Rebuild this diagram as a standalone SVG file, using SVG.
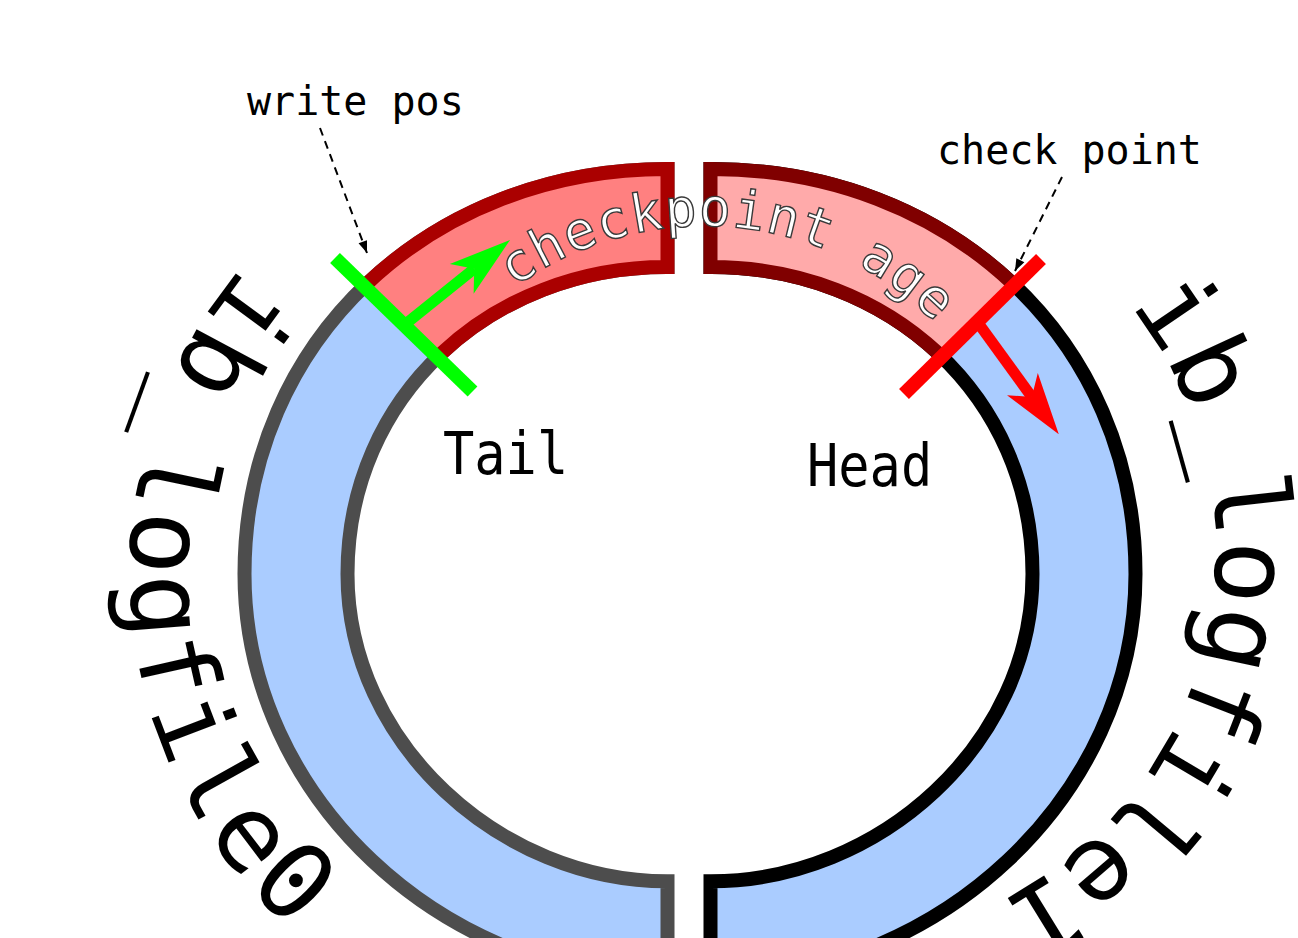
<svg xmlns="http://www.w3.org/2000/svg" width="1298" height="938" viewBox="0 0 1298 938">
<defs>
<style>
.mono{font-family:"DejaVu Sans Mono","Liberation Mono",monospace;}
.band{stroke-width:14;stroke-linejoin:miter;}
.blue{fill:#aaccff;}
.bar{stroke-width:14;fill:none;stroke-linecap:butt;}
.shaft{stroke-width:11;fill:none;}
.dash{stroke:#000;stroke-width:2;fill:none;stroke-dasharray:8,6;}
.big{font-size:106px;fill:#000;}
.lbl{font-size:40px;fill:#000;}
.ht{font-size:52px;fill:#000;}
.age{font-size:53px;fill:#fff;stroke:#3a3a3a;stroke-width:1.4;letter-spacing:1px;}
</style>
<path id="pL" d="M667.5,169 C431.6,168.5 244.5,338.8 244.5,574 C244.5,798 444,979.5 667.5,979 L667.5,881.3 C500.8,881.5 347.5,743.8 347.5,574 C347.5,395.65 491.35,266.5 667.5,267 Z"/>
<path id="pR" d="M710.5,169 C948.4,168.5 1135.5,338.8 1135.5,574 C1135.5,798 936,979.5 710.5,979 L710.5,881.3 C879.2,881.5 1032.5,743.8 1032.5,574 C1032.5,395.65 888.65,266.5 710.5,267 Z"/>
<clipPath id="clipL"><polygon points="-77.5,-142.5 747.5,658.5 1500,-100 300,-500"/></clipPath>
<clipPath id="clipR"><polygon points="493,799 1315,-11 1000,-600 -100,-100"/></clipPath>
<path id="tpL" d="M242.2,266.8 A472.5,472.5 0 0,0 365.75,982.2"/>
<path id="tpR" d="M1129.4,305.4 A392,392 0 0,1 892.1,937"/>
<path id="tpC" d="M514.1,287.7 A323,323 0 0,1 983.7,387.5"/>
<marker id="ahG" markerUnits="userSpaceOnUse" markerWidth="120" markerHeight="120" refX="0" refY="0" orient="auto" overflow="visible">
<path d="M46,0 L-16,-19 L0,0 L-16,19 Z" fill="#00ff00"/>
</marker>
<marker id="ahR" markerUnits="userSpaceOnUse" markerWidth="120" markerHeight="120" refX="0" refY="0" orient="auto" overflow="visible">
<path d="M46,0 L-16,-19 L0,0 L-16,19 Z" fill="#ff0000"/>
</marker>
<marker id="ahK" markerUnits="userSpaceOnUse" markerWidth="30" markerHeight="30" refX="0" refY="0" orient="auto" overflow="visible">
<path d="M0,0 L-12,-4.5 L-12,4.5 Z" fill="#000"/>
</marker>
</defs>
<rect width="1298" height="938" fill="#ffffff"/>

<g id="ib_logfile0">
<use href="#pL" class="band blue" stroke="#4d4d4d"/>
<text class="mono big" letter-spacing="3.5"><textPath href="#tpL">ib_logfile0</textPath></text>
</g>
<g id="ib_logfile1">
<use href="#pR" class="band blue" stroke="#000000"/>
<text class="mono big" letter-spacing="-0.5"><textPath href="#tpR">ib_logfile1</textPath></text>
</g>

<g id="checkpoint-age">
<g clip-path="url(#clipL)"><use href="#pL" class="band" fill="#ff8080" stroke="#aa0000"/></g>
<g clip-path="url(#clipR)"><use href="#pR" class="band" fill="#ffaaaa" stroke="#800000"/></g>
<text class="mono age"><textPath href="#tpC">checkpoint age</textPath></text>
</g>

<g id="tail">
<line x1="335" y1="258" x2="472.5" y2="391.5" class="bar" stroke="#00ff00"/>
<path d="M408,322 L474.2,268.8" class="shaft" stroke="#00ff00" marker-end="url(#ahG)"/>
<text class="mono ht" transform="translate(443,474) scale(1,1.12)">Tail</text>
</g>

<g id="head">
<line x1="904" y1="394" x2="1041" y2="259" class="bar" stroke="#ff0000"/>
<path d="M976,320 L1031.8,397" class="shaft" stroke="#ff0000" marker-end="url(#ahR)"/>
<text class="mono ht" transform="translate(807,486) scale(1,1.12)">Head</text>
</g>

<g id="write-pos">
<text class="mono lbl" x="247" y="115">write pos</text>
</g>
<g id="check-point">
<text class="mono lbl" x="937" y="164">check point</text>
</g>

<g id="connectors">
<path d="M320,128 L367,253" class="dash" marker-end="url(#ahK)"/>
<path d="M1062,177 L1015,271" class="dash" marker-end="url(#ahK)"/>
</g>
</svg>
